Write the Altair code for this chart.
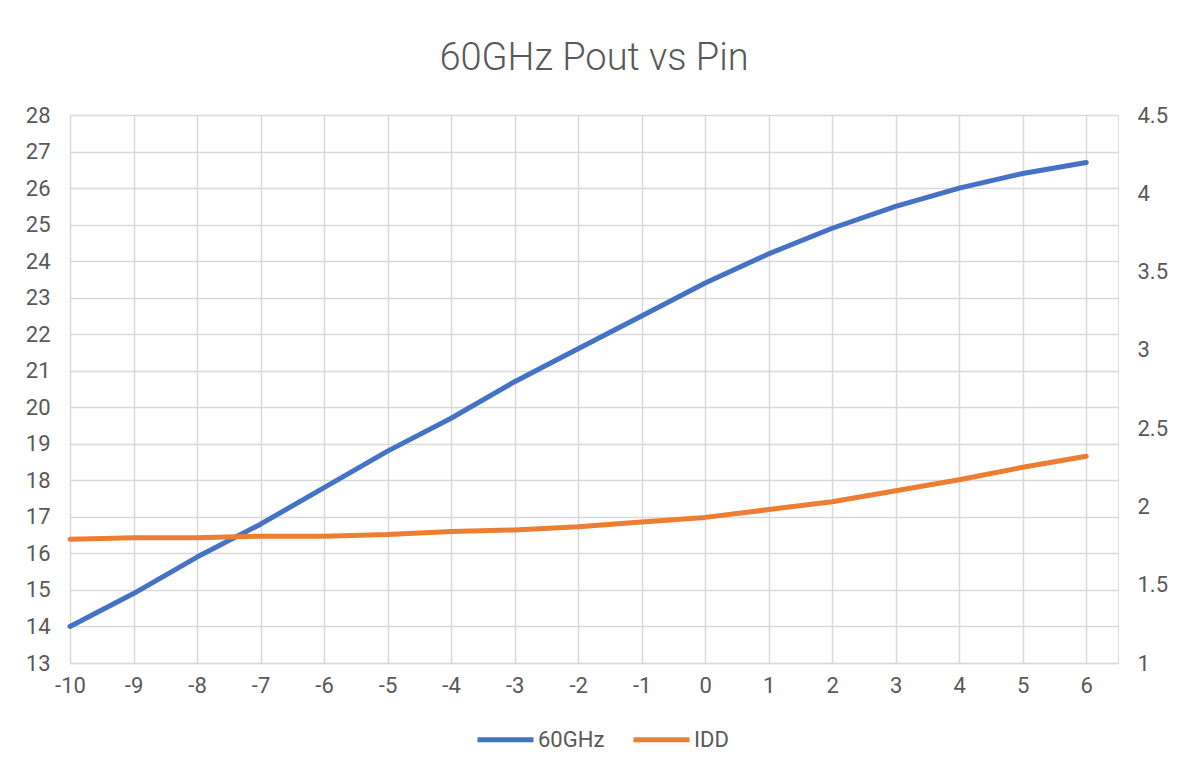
import altair as alt
import pandas as pd

pin = [-10, -9, -8, -7, -6, -5, -4, -3, -2, -1, 0, 1, 2, 3, 4, 5, 6]
pout_60ghz = [14.0, 14.9, 15.9, 16.8, 17.8, 18.8, 19.7, 20.7, 21.6, 22.5, 23.4, 24.2, 24.9, 25.5, 26.0, 26.4, 26.7]
idd = [1.79, 1.80, 1.80, 1.81, 1.81, 1.82, 1.84, 1.85, 1.87, 1.90, 1.93, 1.98, 2.03, 2.10, 2.17, 2.25, 2.32]

series_names = ["60GHz", "IDD"]
series_colors = ["#4472C4", "#ED7D31"]

df1 = pd.DataFrame({"pin": pin, "val": pout_60ghz, "series": series_names[0]})
df2 = pd.DataFrame({"pin": pin, "val": idd, "series": series_names[1]})

FONT = "Roboto"
GRAY = "#595959"
GRID = "#d9d9d9"

color = alt.Color(
    "series:N",
    scale=alt.Scale(domain=series_names, range=series_colors),
    legend=alt.Legend(
        title=None,
        orient="none",
        direction="horizontal",
        legendX=405,
        legendY=594,
        symbolType="stroke",
        symbolSize=3136,
        symbolStrokeWidth=5,
        labelFontSize=22,
        labelFont=FONT,
        labelColor=GRAY,
        columnPadding=18,
        labelOffset=2,
    ),
)

x = alt.X(
    "pin:Q",
    scale=alt.Scale(domain=[-10, 6.5], nice=False, zero=False),
    axis=alt.Axis(
        title=None,
        values=pin,
        grid=True,
        gridColor=GRID,
        gridWidth=1.5,
        domain=True,
        domainColor=GRID,
        domainWidth=1.5,
        ticks=False,
        labelPadding=12,
        labelFontSize=22,
        labelFont=FONT,
        labelColor=GRAY,
        labelFlush=False,
        labelExpr="'' + datum.value",
    ),
)

left = alt.Chart(df1).mark_line(strokeWidth=5, strokeCap="round", strokeJoin="round").encode(
    x=x,
    y=alt.Y(
        "val:Q",
        scale=alt.Scale(domain=[13, 28], nice=False, zero=False),
        axis=alt.Axis(
            title=None,
            values=list(range(13, 29)),
            grid=True,
            gridColor=GRID,
            gridWidth=1.5,
            domain=False,
            ticks=False,
            labelPadding=20,
            labelFontSize=22,
            labelFont=FONT,
            labelColor=GRAY,
            labelFlush=False,
        ),
    ),
    color=color,
)

right = alt.Chart(df2).mark_line(strokeWidth=5, strokeCap="round", strokeJoin="round").encode(
    x=x,
    y=alt.Y(
        "val:Q",
        scale=alt.Scale(domain=[1, 4.5], nice=False, zero=False),
        axis=alt.Axis(
            title=None,
            orient="right",
            values=[1, 1.5, 2, 2.5, 3, 3.5, 4, 4.5],
            grid=False,
            domain=False,
            ticks=False,
            labelPadding=19,
            labelFontSize=22,
            labelFont=FONT,
            labelColor=GRAY,
            labelFlush=False,
            labelExpr="'' + datum.value",
        ),
    ),
    color=color,
)

chart = (
    alt.layer(left, right)
    .resolve_scale(y="independent")
    .properties(
        width=1048,
        height=548,
        autosize=alt.AutoSizeParams(type="none"),
        padding={"left": 62, "top": 107, "right": 50, "bottom": 90},
        title=alt.TitleParams(
            "60GHz Pout vs Pin",
            fontSize=38,
            font=FONT,
            fontWeight=300,
            color=GRAY,
            anchor="middle",
            offset=26,
        ),
    )
    .configure_view(stroke=None)
    .configure(background="white")
)

chart.save("out.html", embed_options={"renderer": "svg", "actions": False})
